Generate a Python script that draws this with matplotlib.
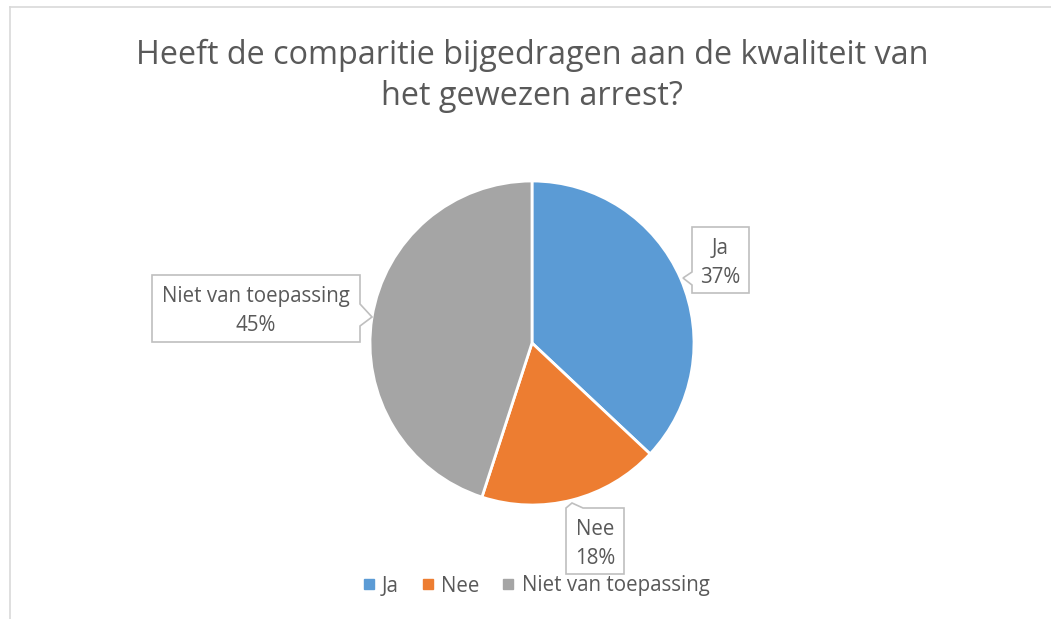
import matplotlib
matplotlib.use("Agg")
import matplotlib.pyplot as plt
from matplotlib.patches import Polygon
from matplotlib.lines import Line2D

# ---- data ----
categories = ["Ja", "Nee", "Niet van toepassing"]
values = [37, 18, 45]
colors = ["#5B9BD5", "#ED7D31", "#A5A5A5"]
title = "Heeft de comparitie bijgedragen aan de kwaliteit van\nhet gewezen arrest?"

W, H = 1051, 619
FONT = "Open Sans"
TXT = "#595959"

fig = plt.figure(figsize=(W / 100, H / 100), dpi=100)
ax = fig.add_axes([0, 0, 1, 1])
ax.set_xlim(0, W)
ax.set_ylim(0, H)
ax.set_aspect("equal")
ax.axis("off")

def P(x, y):
    return (x, H - y)

# chart border (partially visible)
fig.add_artist(Line2D([9.5 / W, 9.5 / W], [0, 1 - 6.5 / H], color="#D9D9D9", lw=1.2))
fig.add_artist(Line2D([9.5 / W, 1], [1 - 6.5 / H, 1 - 6.5 / H], color="#D9D9D9", lw=1.2))

# title
ax.text(532, H - 76, title, ha="center", va="center", fontsize=23.3,
        family=FONT, color=TXT, linespacing=1.32)

# pie
wedges, _ = ax.pie(values, colors=colors, startangle=90, counterclock=False,
                   center=P(532, 343), radius=162,
                   wedgeprops=dict(edgecolor="white", linewidth=2))
ax.set_xlim(0, W)
ax.set_ylim(0, H)

# callout shapes (box with pointer), in pixel coords (y downward), same order as categories
callouts = [
    # Ja: pointer on left
    [(692, 227), (749, 227), (749, 293), (692, 293), (692, 285), (683, 278), (692, 272)],
    # Nee: pointer top-left
    [(566, 508), (572, 503), (583, 508), (624, 508), (624, 574), (566, 574)],
    # Niet van toepassing: pointer right
    [(152, 275), (360, 275), (360, 304), (372, 317), (360, 326), (360, 342), (152, 342)],
]
for pts in callouts:
    ax.add_patch(Polygon([P(x, y) for x, y in pts], closed=True, facecolor="white",
                         edgecolor="#BFBFBF", lw=1.2, zorder=3))

label_pos = [(720, 263), (595, 544), (256, 311)]
for cat, v, (x, y) in zip(categories, values, label_pos):
    ax.text(*P(x, y), f"{cat}\n{v}%", ha="center", va="center", fontsize=14.8,
            family=FONT, color=TXT, linespacing=1.55, zorder=4)

# legend
handles = [Line2D([], [], marker="s", linestyle="none", markersize=6.5,
                  markerfacecolor=c, markeredgecolor=c) for c in colors]
leg = fig.legend(handles, categories, loc="center", bbox_to_anchor=(536 / W, 1 - 586 / H),
                 ncol=3, frameon=False, handlelength=0.6, handletextpad=0.35,
                 columnspacing=1.1, prop={"family": FONT, "size": 14.8})
for t in leg.get_texts():
    t.set_color(TXT)

fig.savefig("out.png", dpi=100, facecolor="white")
